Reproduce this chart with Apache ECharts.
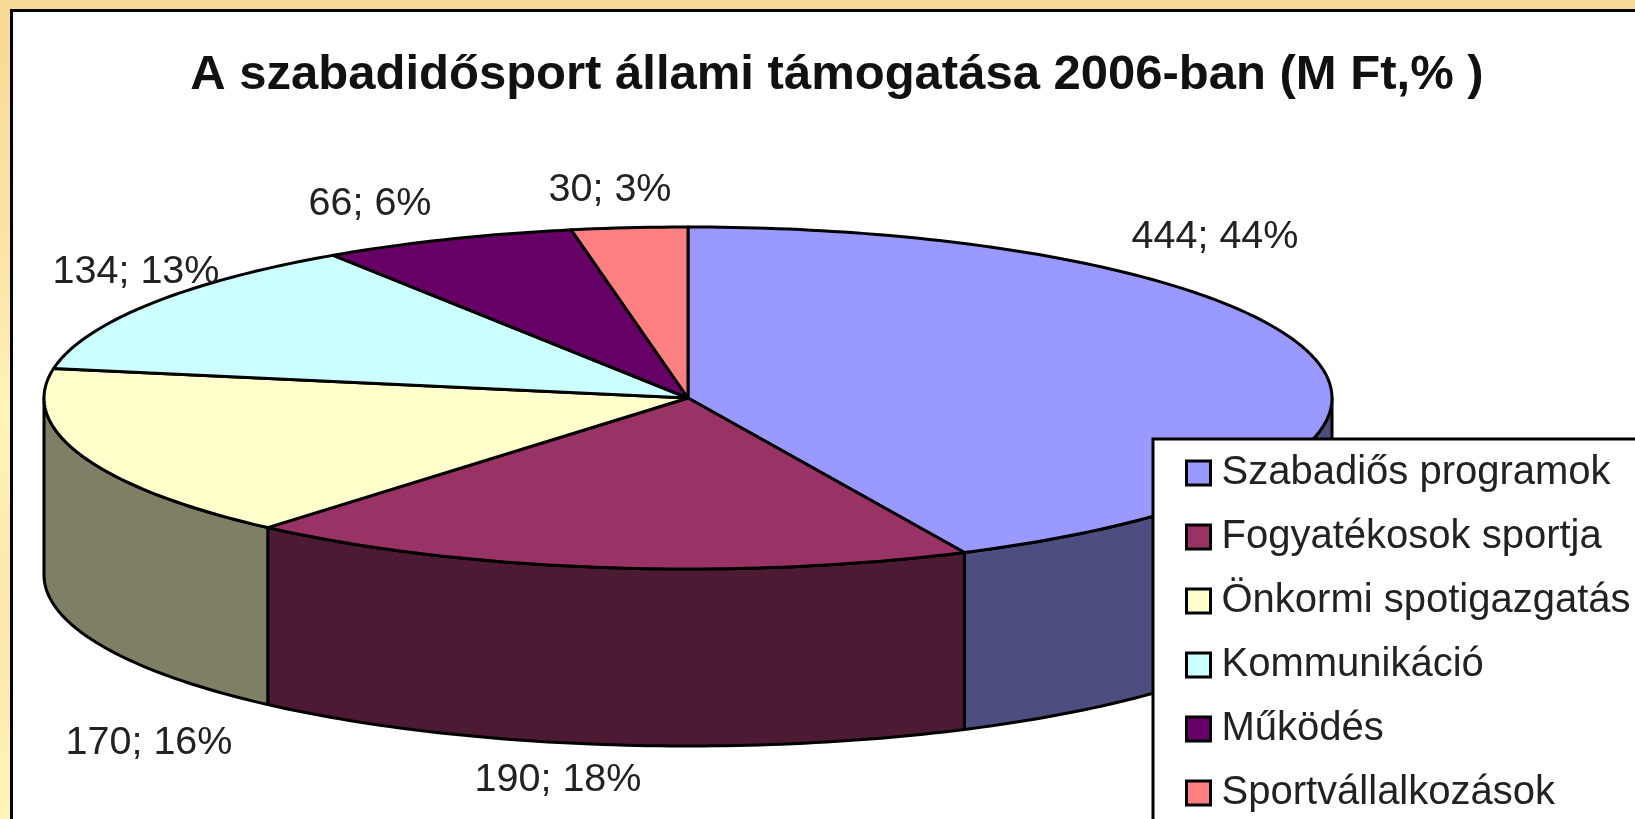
<!DOCTYPE html>
<html>
<head>
<meta charset="utf-8">
<title>A szabadidősport állami támogatása 2006-ban</title>
<script src="https://cdn.jsdelivr.net/npm/echarts@6/dist/echarts.min.js"></script>
<style>
  html, body { margin: 0; padding: 0; background: #fbe3a4; overflow: hidden; }
  #chart { width: 1635px; height: 819px; }
</style>
</head>
<body>
<div id="chart"></div>
<script>
const titleText = 'A szabadidősport állami támogatása 2006-ban (M Ft,% )'
const categories = ['Szabadiős programok', 'Fogyatékosok sportja', 'Önkormi spotigazgatás', 'Kommunikáció', 'Működés', 'Sportvállalkozások']
const values = [444, 190, 170, 134, 66, 30]
// the percentages as printed on the chart
const percents = [44, 18, 16, 13, 6, 3]
const topColors = ['#9999ff', '#993366', '#ffffcc', '#ccffff', '#660066', '#ff8080']
const sideColors = ['#4d4d7f', '#4d1a33', '#7f7f66', '#66807f', '#330033', '#804040']
// label centres, pixels
const labelPos = [[1215, 237], [558, 780], [149, 743], [136, 272], [370, 204], [610, 190]]

// pie geometry
const cx = 688, cy = 398, rx = 644, ry = 171, depth = 177

const total = values.reduce((a, b) => a + b, 0)
const ellipse = (deg, dy) => {
  const r = deg * Math.PI / 180
  return [cx + rx * Math.sin(r), cy - ry * Math.cos(r) + dy]
}
const arc = (from, to, dy) => {
  const pts = []
  for (let d = from; d < to; d += 1) pts.push(ellipse(d, dy))
  pts.push(ellipse(to, dy))
  return pts
}

const renderSlice = (params, api) => {
  const i = params.seriesIndex
  const before = values.slice(0, i).reduce((a, b) => a + b, 0)
  const start = before / total * 360
  const end = start + api.value(0) / total * 360
  const children = []
  const wallFrom = Math.max(start, 90), wallTo = Math.min(end, 270)
  if (wallFrom < wallTo) {
    children.push({
      type: 'polygon',
      shape: { points: arc(wallFrom, wallTo, 0).concat(arc(wallFrom, wallTo, depth).reverse()) },
      style: { fill: sideColors[i], stroke: '#000', lineWidth: 3, lineJoin: 'round' }
    })
  }
  children.push({
    type: 'polygon',
    shape: { points: [[cx, cy]].concat(arc(start, end, 0)) },
    style: { fill: topColors[i], stroke: '#000', lineWidth: 3, lineJoin: 'round' }
  })
  children.push({
    type: 'text',
    x: labelPos[i][0],
    y: labelPos[i][1],
    style: {
      text: api.value(0) + '; ' + percents[i] + '%',
      font: '39.5px "Liberation Sans", Arial, sans-serif',
      fill: '#222',
      align: 'center',
      verticalAlign: 'middle'
    }
  })
  return { type: 'group', children }
}

const myChart = echarts.init(document.getElementById('chart'))
const option = {
  animation: false,
  backgroundColor: new echarts.graphic.LinearGradient(0, 0, 0, 1, [
    { offset: 0, color: '#f9d996' },
    { offset: 0.3, color: '#fbe3a4' },
    { offset: 0.5, color: '#fff3b8' },
    { offset: 0.75, color: '#fce8aa' },
    { offset: 1, color: '#fff3b8' }
  ]),
  graphic: [{
    type: 'rect',
    z: 0,
    shape: { x: 11.5, y: 10.5, width: 1700, height: 900 },
    style: { fill: '#fff', stroke: '#000', lineWidth: 3 }
  }],
  title: {
    text: titleText,
    left: 832,
    top: 46,
    textAlign: 'center',
    textStyle: { fontFamily: '"Liberation Sans", Arial, sans-serif', fontSize: 49, fontWeight: 'bold', color: '#111' }
  },
  legend: {
    orient: 'vertical',
    left: 1153,
    top: 439,
    height: 600,
    padding: [14, 120, 60, 32],
    itemWidth: 24,
    itemHeight: 24,
    itemGap: 24,
    icon: 'rect',
    selectedMode: false,
    backgroundColor: '#fff',
    borderColor: '#000',
    borderWidth: 3,
    itemStyle: { borderColor: '#000', borderWidth: 3 },
    textStyle: { fontFamily: '"Liberation Sans", Arial, sans-serif', fontSize: 40, color: '#222', padding: [0, 0, 0, 6] },
    data: categories.map((name, i) => ({ name, itemStyle: { color: topColors[i] } }))
  },
  series: categories.map((name, i) => ({
    type: 'custom',
    name,
    coordinateSystem: 'none',
    itemStyle: { color: topColors[i] },
    renderItem: renderSlice,
    data: [[values[i]]]
  }))
}
myChart.setOption(option)
</script>
</body>
</html>
